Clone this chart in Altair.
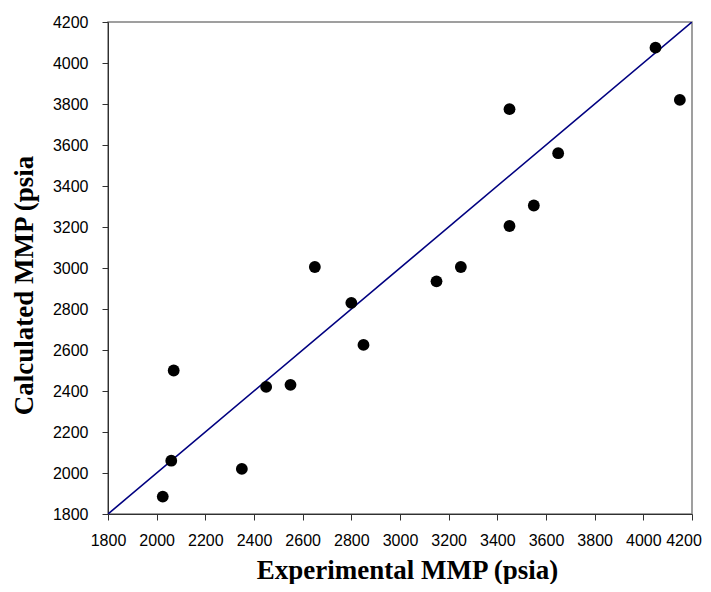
import altair as alt
import pandas as pd

experimental = [2025, 2060, 2070, 2350, 2450, 2550, 2650, 2800, 2850, 3150, 3250, 3450, 3450, 3550, 3650, 4050, 4150]
calculated = [1885, 2060, 2500, 2020, 2420, 2430, 3005, 2830, 2625, 2935, 3005, 3775, 3205, 3305, 3560, 4075, 3820]
line_x = [1800, 4200]
line_y = [1800, 4200]
ticks = list(range(1800, 4201, 200))
last_tick = [4200]

pts = pd.DataFrame({"x": experimental, "y": calculated})
ln = pd.DataFrame({"x": line_x, "y": line_y})
lt = pd.DataFrame({"x": last_tick, "label": [str(v) for v in last_tick]})

xs = alt.Scale(domain=[1800, 4200], nice=False, zero=False)
ys = alt.Scale(domain=[1800, 4200], nice=False, zero=False)

xaxis = alt.Axis(values=ticks, title="Experimental MMP (psia)", grid=False, format="d",
                 labelFont="Liberation Sans", labelFontSize=16, labelColor="black",
                 labelExpr="datum.value == 4200 ? '' : datum.label",
                 titleFont="Liberation Serif", titleFontSize=27, titleFontWeight="bold",
                 titleColor="black", titleX=299, titleY=64, titleBaseline="alphabetic",
                 titleAlign="center", labelPadding=12,
                 tickColor="#303030", domainColor="#303030", tickSize=6, labelFlush=False)
yaxis = alt.Axis(values=ticks, title="Calculated MMP (psia", grid=False, format="d",
                 labelFont="Liberation Sans", labelFontSize=16, labelColor="black",
                 titleFont="Liberation Serif", titleFontSize=27, titleFontWeight="bold",
                 titleColor="black", titleX=-76, titleY=263, titleBaseline="alphabetic",
                 titleAlign="center", titleAngle=270, labelPadding=14,
                 tickColor="#303030", domainColor="#303030", tickSize=6, labelFlush=False)

line = alt.Chart(ln).mark_line(color="#000080", strokeWidth=1.6, clip=True).encode(
    x=alt.X("x:Q", scale=xs, axis=xaxis),
    y=alt.Y("y:Q", scale=ys, axis=yaxis),
)
points = alt.Chart(pts).mark_circle(color="black", size=140, opacity=1).encode(
    x=alt.X("x:Q", scale=xs, axis=xaxis),
    y=alt.Y("y:Q", scale=ys, axis=yaxis),
)
last_label = alt.Chart(lt).mark_text(
    font="Liberation Sans", fontSize=16, color="black", align="center",
    baseline="top", dx=-8, dy=1,
).encode(
    x=alt.X("x:Q", scale=xs, axis=xaxis),
    y=alt.value(510),
    text="label:N",
)

chart = (line + points + last_label).properties(
    width=584, height=492,
    autosize=alt.AutoSizeParams(type="none"),
    padding={"left": 100, "top": 14, "right": 11, "bottom": 70},
    background="white",
).configure_view(stroke="#808080", strokeWidth=1.5)

chart.save("out.html", embed_options={"renderer": "svg", "actions": False})
